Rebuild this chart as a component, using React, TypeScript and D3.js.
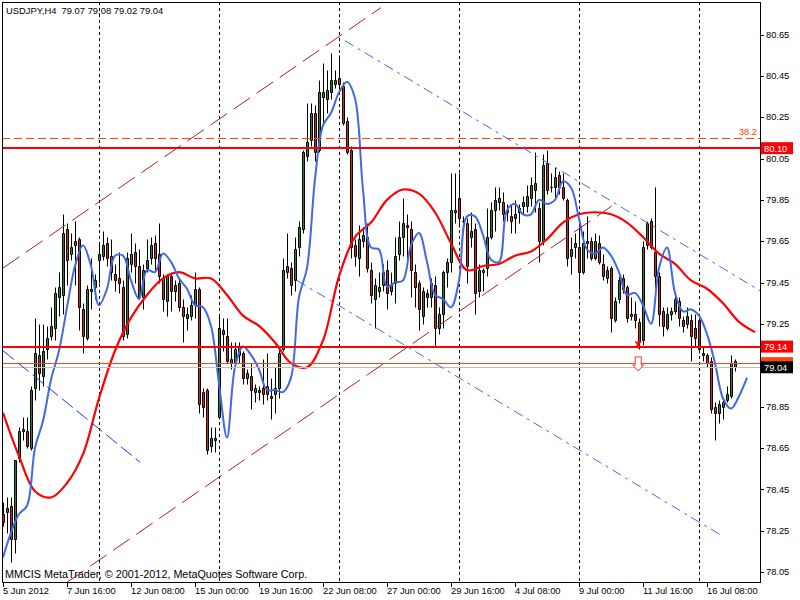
import React from 'react';
import * as d3 from 'd3';

// USDJPY H4 bars, 5 Jun 2012 00:00 onwards
const barOpen = [
  78.33, 78.34, 78.37, 78.21, 78.60, 78.74, 78.73, 78.65, 78.94, 79.10,
  79.00, 79.13, 79.19, 79.23, 79.38, 79.39, 79.71, 79.59, 79.63, 79.66,
  79.32, 79.18, 79.41, 79.43, 79.56, 79.58, 79.64, 79.58, 79.49, 79.47,
  79.43, 79.20, 79.54, 79.60, 79.53, 79.38, 79.52, 79.57, 79.64, 79.59,
  79.47, 79.36, 79.48, 79.41, 79.45, 79.33, 79.28, 79.29, 79.34, 79.42,
  78.92, 78.93, 78.66, 78.69, 78.80, 79.22, 79.19, 79.06, 79.06, 79.10,
  79.11, 78.99, 79.00, 78.92, 78.92, 78.94, 78.95, 78.90, 78.91, 78.94,
  79.13, 79.50, 79.52, 79.46, 79.62, 79.71, 80.06, 80.14, 80.27, 80.09,
  80.35, 80.34, 80.37, 80.41, 80.44, 80.40, 80.23, 80.09, 79.63, 79.57,
  79.65, 79.67, 79.51, 79.37, 79.41, 79.44, 79.51, 79.41, 79.45, 79.59,
  79.67, 79.73, 79.71, 79.50, 79.45, 79.29, 79.40, 79.38, 79.44, 79.23,
  79.30, 79.50, 79.55, 79.79, 79.86, 79.75, 79.74, 79.67, 79.71, 79.41,
  79.50, 79.52, 79.67, 79.80, 79.84, 79.84, 79.79, 79.77, 79.76, 79.79,
  79.82, 79.82, 79.86, 79.90, 79.81, 79.65, 80.03, 79.91, 79.91, 79.97,
  79.91, 79.85, 79.58, 79.62, 79.62, 79.50, 79.64, 79.65, 79.57, 79.64,
  79.54, 79.47, 79.52, 79.27, 79.37, 79.47, 79.43, 79.29, 79.30, 79.26,
  79.17, 79.63, 79.75, 79.60, 79.48, 79.31, 79.23, 79.30, 79.31, 79.36,
  79.27, 79.25, 79.27, 79.23, 79.27, 79.11, 79.10, 79.07, 78.85, 78.82,
  78.85, 78.88, 78.90, 79.07,
];
const barHigh = [
  78.39, 78.41, 78.41, 78.59, 78.75, 78.80, 78.80, 78.95, 79.28, 79.25,
  79.25, 79.24, 79.33, 79.43, 79.50, 79.78, 79.74, 79.69, 79.75, 79.67,
  79.35, 79.44, 79.57, 79.49, 79.64, 79.70, 79.67, 79.66, 79.54, 79.60,
  79.46, 79.60, 79.69, 79.64, 79.61, 79.54, 79.66, 79.67, 79.68, 79.74,
  79.49, 79.49, 79.49, 79.46, 79.47, 79.37, 79.33, 79.39, 79.50, 79.43,
  78.94, 78.94, 78.75, 78.75, 79.29, 79.28, 79.28, 79.16, 79.16, 79.16,
  79.12, 79.03, 79.06, 78.96, 78.95, 79.08, 79.11, 78.99, 79.04, 79.13,
  79.57, 79.69, 79.55, 79.67, 79.75, 80.09, 80.32, 80.32, 80.31, 80.43,
  80.51, 80.48, 80.56, 80.48, 80.55, 80.42, 80.25, 80.11, 79.66, 79.73,
  79.72, 79.74, 79.55, 79.47, 79.50, 79.54, 79.56, 79.50, 79.67, 79.75,
  79.86, 79.78, 79.75, 79.54, 79.46, 79.43, 79.42, 79.47, 79.48, 79.33,
  79.51, 79.57, 79.98, 79.98, 79.98, 79.77, 79.76, 79.79, 79.74, 79.54,
  79.52, 79.81, 79.84, 79.91, 79.91, 79.89, 79.83, 79.83, 79.85, 79.83,
  79.87, 79.92, 79.96, 80.08, 79.84, 80.07, 80.09, 79.98, 80.01, 79.99,
  79.98, 79.86, 79.67, 79.69, 79.72, 79.70, 79.77, 79.67, 79.69, 79.68,
  79.59, 79.53, 79.53, 79.38, 79.48, 79.49, 79.44, 79.38, 79.36, 79.28,
  79.65, 79.75, 79.76, 79.91, 79.50, 79.33, 79.33, 79.33, 79.40, 79.38,
  79.29, 79.33, 79.30, 79.30, 79.28, 79.14, 79.11, 79.09, 78.87, 78.88,
  78.89, 78.95, 79.10, 79.08,
];
const barLow = [
  78.27, 78.24, 78.10, 78.14, 78.58, 78.69, 78.65, 78.64, 78.88, 78.93,
  78.95, 79.08, 79.17, 79.17, 79.29, 79.30, 79.44, 79.56, 79.44, 79.22,
  79.11, 79.17, 79.32, 79.37, 79.45, 79.56, 79.53, 79.46, 79.41, 79.40,
  79.17, 79.18, 79.50, 79.45, 79.37, 79.32, 79.50, 79.54, 79.51, 79.45,
  79.31, 79.29, 79.31, 79.36, 79.31, 79.16, 79.22, 79.27, 79.28, 78.82,
  78.80, 78.62, 78.63, 78.63, 78.79, 79.12, 79.06, 79.03, 79.04, 79.06,
  78.96, 78.96, 78.84, 78.87, 78.88, 78.86, 78.88, 78.79, 78.82, 78.89,
  79.12, 79.47, 79.39, 79.41, 79.58, 79.69, 80.04, 80.11, 80.04, 80.08,
  80.22, 80.27, 80.34, 80.39, 80.38, 80.21, 80.07, 79.57, 79.53, 79.48,
  79.62, 79.50, 79.35, 79.23, 79.38, 79.41, 79.32, 79.39, 79.35, 79.56,
  79.58, 79.56, 79.38, 79.33, 79.22, 79.25, 79.33, 79.33, 79.14, 79.20,
  79.23, 79.43, 79.50, 79.74, 79.72, 79.74, 79.45, 79.62, 79.30, 79.38,
  79.41, 79.48, 79.66, 79.70, 79.80, 79.75, 79.75, 79.69, 79.69, 79.74,
  79.78, 79.79, 79.82, 79.79, 79.55, 79.63, 79.88, 79.89, 79.86, 79.88,
  79.85, 79.53, 79.49, 79.57, 79.42, 79.49, 79.57, 79.56, 79.56, 79.54,
  79.46, 79.45, 79.21, 79.26, 79.35, 79.40, 79.26, 79.27, 79.23, 79.13,
  79.15, 79.61, 79.61, 79.43, 79.24, 79.19, 79.22, 79.27, 79.30, 79.24,
  79.21, 79.23, 79.07, 79.14, 79.11, 79.07, 79.04, 78.82, 78.69, 78.77,
  78.79, 78.87, 78.89, 79.02,
];
const barClose = [
  78.29, 78.36, 78.21, 78.59, 78.73, 78.73, 78.66, 78.93, 79.11, 79.01,
  79.12, 79.18, 79.24, 79.40, 79.43, 79.69, 79.56, 79.62, 79.65, 79.33,
  79.19, 79.42, 79.42, 79.46, 79.59, 79.63, 79.57, 79.50, 79.46, 79.45,
  79.19, 79.57, 79.59, 79.53, 79.38, 79.51, 79.56, 79.63, 79.57, 79.48,
  79.37, 79.48, 79.41, 79.44, 79.33, 79.29, 79.30, 79.34, 79.42, 78.86,
  78.85, 78.64, 78.70, 78.70, 79.23, 79.20, 79.07, 79.08, 79.13, 79.14,
  78.99, 79.01, 78.93, 78.94, 78.93, 78.91, 78.91, 78.89, 78.94, 79.11,
  79.51, 79.53, 79.44, 79.61, 79.72, 80.08, 80.13, 80.27, 80.08, 80.37,
  80.37, 80.38, 80.43, 80.43, 80.41, 80.22, 80.08, 79.62, 79.58, 79.66,
  79.68, 79.52, 79.39, 79.44, 79.43, 79.50, 79.40, 79.44, 79.58, 79.67,
  79.74, 79.72, 79.51, 79.43, 79.32, 79.41, 79.38, 79.45, 79.23, 79.30,
  79.50, 79.55, 79.80, 79.80, 79.76, 79.75, 79.53, 79.70, 79.40, 79.51,
  79.51, 79.67, 79.80, 79.85, 79.86, 79.78, 79.80, 79.75, 79.78, 79.81,
  79.84, 79.87, 79.92, 79.93, 79.65, 80.02, 79.90, 79.91, 79.96, 79.91,
  79.86, 79.57, 79.61, 79.64, 79.50, 79.64, 79.65, 79.57, 79.65, 79.55,
  79.48, 79.51, 79.28, 79.36, 79.46, 79.42, 79.28, 79.30, 79.27, 79.16,
  79.62, 79.74, 79.62, 79.48, 79.30, 79.24, 79.30, 79.31, 79.37, 79.28,
  79.24, 79.29, 79.19, 79.18, 79.13, 79.10, 79.06, 78.84, 78.82, 78.86,
  78.87, 78.91, 79.06, 79.04,
];

// fast moving average (blue), one value every 2 bars
const fastMA = [
  78.12, 78.24, 78.33, 78.37, 78.65, 78.78, 78.98, 79.12, 79.33, 79.53,
  79.63, 79.53, 79.34, 79.42, 79.58, 79.58, 79.46, 79.37, 79.51, 79.50,
  79.59, 79.55, 79.47, 79.42, 79.34, 79.33, 79.24, 78.96, 78.70, 79.04,
  79.14, 79.10, 79.03, 78.93, 78.93, 78.92, 78.99, 79.38, 79.52, 79.95,
  80.21, 80.27, 80.37, 80.42, 80.34, 79.90, 79.62, 79.61, 79.43, 79.45,
  79.46, 79.63, 79.69, 79.55, 79.39, 79.37, 79.33, 79.46, 79.77, 79.77,
  79.68, 79.56, 79.55, 79.80, 79.83, 79.78, 79.78, 79.85, 79.83, 79.85,
  79.94, 79.91, 79.76, 79.61, 79.59, 79.62, 79.58, 79.50, 79.39, 79.40,
  79.34, 79.25, 79.52, 79.62, 79.40, 79.31, 79.32, 79.29, 79.20, 79.06,
  78.89, 78.84, 78.90, 78.99,
];
// slow moving average (red), one value every 4 bars
const slowMA = [
  78.82, 78.61, 78.44, 78.41, 78.48, 78.62, 78.89, 79.12, 79.28, 79.39,
  79.47, 79.50, 79.47, 79.47, 79.39, 79.29, 79.24, 79.16, 79.06, 79.04,
  79.17, 79.48, 79.67, 79.74, 79.85, 79.90, 79.88, 79.79, 79.64, 79.51,
  79.53, 79.54, 79.58, 79.60, 79.66, 79.74, 79.78, 79.79, 79.78, 79.74,
  79.67, 79.59, 79.54, 79.46, 79.42, 79.35, 79.26, 79.21,
];

const priceTicks = [80.65, 80.45, 80.25, 80.05, 79.85, 79.65, 79.45, 79.25, 79.05, 78.85, 78.65, 78.45, 78.25, 78.05];
const timeLabels = ['5 Jun 2012', '7 Jun 16:00', '12 Jun 08:00', '15 Jun 00:00', '19 Jun 16:00', '22 Jun 08:00', '27 Jun 00:00', '29 Jun 16:00', '4 Jul 08:00', '9 Jul 00:00', '11 Jul 16:00', '16 Jul 08:00'];
const timeTickBars = [0, 16, 32, 48, 64, 80, 96, 112, 128, 144, 160, 176];
const weekStartBars = [24, 54, 84, 114, 144, 174];

const fiboPrice = 80.15;
const fiboLabel = '38.2';
const levelPrices = [80.10, 79.14];
const askPrice = 79.06;
const bidPrice = 79.04;

// trend objects: [bar, price] pairs
const channelUp = [[0, 79.52], [94.5, 80.78]];
const channelDown = [[16, 78.0], [152.2, 79.82]];
const trendUpper = [[85.5, 80.62], [189.3, 79.41]];
const trendLower = [[73.5, 79.46], [179.3, 78.23]];
const trendOld = [[0, 79.12], [34.3, 78.58]];
const sellArrow = { bar: 158.8, price: 79.09 };
const crossMark = { bar: 158.8, price: 79.15 };

const FONT = "'Liberation Sans', Arial, sans-serif";
const UP = '#1b8a2b';
const DOWN = '#e01e1e';

const App: React.FC = () => {
  const x = d3.scaleLinear().domain([0, 189]).range([3, 759]);
  const y = d3.scaleLinear().domain([78.05, 80.65]).range([571.9, 34.5]);

  const fastLine = d3.line<number>()
    .x((_, i) => x(i * 2))
    .y(d => y(d))
    .curve(d3.curveCatmullRom.alpha(0.5));
  const slowLine = d3.line<number>()
    .x((_, i) => x(i * 4))
    .y(d => y(d))
    .curve(d3.curveCatmullRom.alpha(0.5));
  const seg = d3.line<number[]>().x(d => x(d[0])).y(d => y(d[1]));

  const crisp = (v: number) => Math.round(v) + 0.5;

  const ax = x(sellArrow.bar);
  const ay = y(sellArrow.price);
  const mx = x(crossMark.bar);
  const my = y(crossMark.price);

  // the bid label box hides the axis label right under it
  const visibleTicks = priceTicks.filter(p => Math.abs(y(p) - y(bidPrice)) > 7);

  return (
    <div style={{ position: 'absolute', left: 0, top: 0 }}>
      <svg width={800} height={600} style={{ display: 'block', background: '#fff', fontFamily: FONT }}>
        <defs>
          <clipPath id="plot">
            <rect x={3} y={3} width={757} height={579} />
          </clipPath>
        </defs>

        <g clipPath="url(#plot)">
          {/* week separators */}
          {weekStartBars.map(b => (
            <line key={b} x1={crisp(x(b))} x2={crisp(x(b))} y1={2} y2={582}
              stroke="#000" strokeWidth={1} strokeDasharray="3,3" />
          ))}

          {/* candles */}
          {barOpen.map((o, i) => {
            const c = barClose[i];
            const cx = Math.round(x(i));
            const top = crisp(y(Math.max(o, c)));
            const bot = crisp(y(Math.min(o, c)));
            return (
              <g key={i}>
                <line x1={cx + 0.5} x2={cx + 0.5} y1={crisp(y(barHigh[i]))} y2={crisp(y(barLow[i]))}
                  stroke="#000" strokeWidth={1} />
                <path d={`M${cx - 0.5},${top}H${cx + 1.5}V${bot}H${cx - 0.5}Z`}
                  fill={c >= o ? UP : DOWN} stroke="#000" strokeWidth={1} />
              </g>
            );
          })}

          {/* indicators */}
          <path d={slowLine(slowMA) || ''} fill="none" stroke="#ff0000" strokeWidth={2.2} />
          <path d={fastLine(fastMA) || ''} fill="none" stroke="#4169e1" strokeWidth={2} />

          {/* objects */}
          <line x1={2} x2={760} y1={crisp(y(fiboPrice))} y2={crisp(y(fiboPrice))}
            stroke="#ff4500" strokeWidth={1} strokeDasharray="8,4" />
          <line x1={2} x2={760} y1={crisp(y(bidPrice))} y2={crisp(y(bidPrice))}
            stroke="#c0c0c0" strokeWidth={1} />
          <line x1={2} x2={760} y1={crisp(y(askPrice))} y2={crisp(y(askPrice))}
            stroke="#ff4500" strokeWidth={1} />
          {levelPrices.map(p => (
            <line key={p} x1={2} x2={760} y1={Math.round(y(p))} y2={Math.round(y(p))}
              stroke="#ff0000" strokeWidth={2} />
          ))}
          <path d={seg(channelUp) || ''} fill="none" stroke="#b01e1e" strokeWidth={1} strokeDasharray="20,8" />
          <path d={seg(channelDown) || ''} fill="none" stroke="#b01e1e" strokeWidth={1} strokeDasharray="20,8" />
          <path d={seg(trendUpper) || ''} fill="none" stroke="#4169e1" strokeWidth={1} strokeDasharray="10,5,3,5" />
          <path d={seg(trendLower) || ''} fill="none" stroke="#4169e1" strokeWidth={1} strokeDasharray="10,5,3,5" />
          <path d={seg(trendOld) || ''} fill="none" stroke="#1e3ce6" strokeWidth={1} strokeDasharray="14,5" />

          <text x={757} y={y(fiboPrice) - 3} textAnchor="end" fontSize={9.3} fill="#ff4500">{fiboLabel}</text>

          {/* signal marks */}
          <path d={`M${mx - 3},${my - 3}L${mx + 3},${my + 3}M${mx + 3},${my - 3}L${mx - 3},${my + 3}M${mx},${my - 4}V${my + 4}`}
            stroke="#ff0000" strokeWidth={1.5} fill="none" />
          <path d={`M${ax - 3},${ay}H${ax + 3}V${ay + 8}H${ax + 5.5}L${ax},${ay + 14}L${ax - 5.5},${ay + 8}H${ax - 3}Z`}
            fill="#fff" stroke="#ff3030" strokeWidth={1} />

          <text x={6} y={14} fontSize={9.4} fill="#000" style={{ whiteSpace: 'pre' }}>USDJPY,H4  79.07 79.08 79.02 79.04</text>
          <text x={5} y={578} fontSize={10.8} fill="#000">MMCIS MetaTrader, © 2001-2012, MetaQuotes Software Corp.</text>
        </g>

        {/* frame */}
        <rect x={2.5} y={2.5} width={758} height={580} fill="none" stroke="#000" strokeWidth={1} />

        {/* price axis */}
        {priceTicks.map(p => (
          <line key={p} x1={760} x2={764} y1={crisp(y(p))} y2={crisp(y(p))} stroke="#000" />
        ))}
        {visibleTicks.map(p => (
          <text key={p} x={766} y={y(p) + 3.3} fontSize={9.3} fill="#000">{p.toFixed(2)}</text>
        ))}

        {/* time axis */}
        {timeTickBars.map((b, i) => (
          <g key={b}>
            <line x1={crisp(x(b))} x2={crisp(x(b))} y1={582} y2={587} stroke="#000" />
            <text x={x(b)} y={594} fontSize={9.3} fill="#000">{timeLabels[i]}</text>
          </g>
        ))}

        {/* price labels */}
        {[
          { p: levelPrices[0], bg: '#ff0000' },
          { p: levelPrices[1], bg: '#ff0000' },
          { p: askPrice, bg: '#ff4500' },
          { p: bidPrice, bg: '#000000' },
        ].map(l => (
          <g key={l.p}>
            <rect x={761} y={y(l.p) - 6} width={32} height={12} fill={l.bg} />
            <text x={764} y={y(l.p) + 3.5} fontSize={9.3} fill="#fff">{l.p.toFixed(2)}</text>
          </g>
        ))}
      </svg>
    </div>
  );
};

export default App;
